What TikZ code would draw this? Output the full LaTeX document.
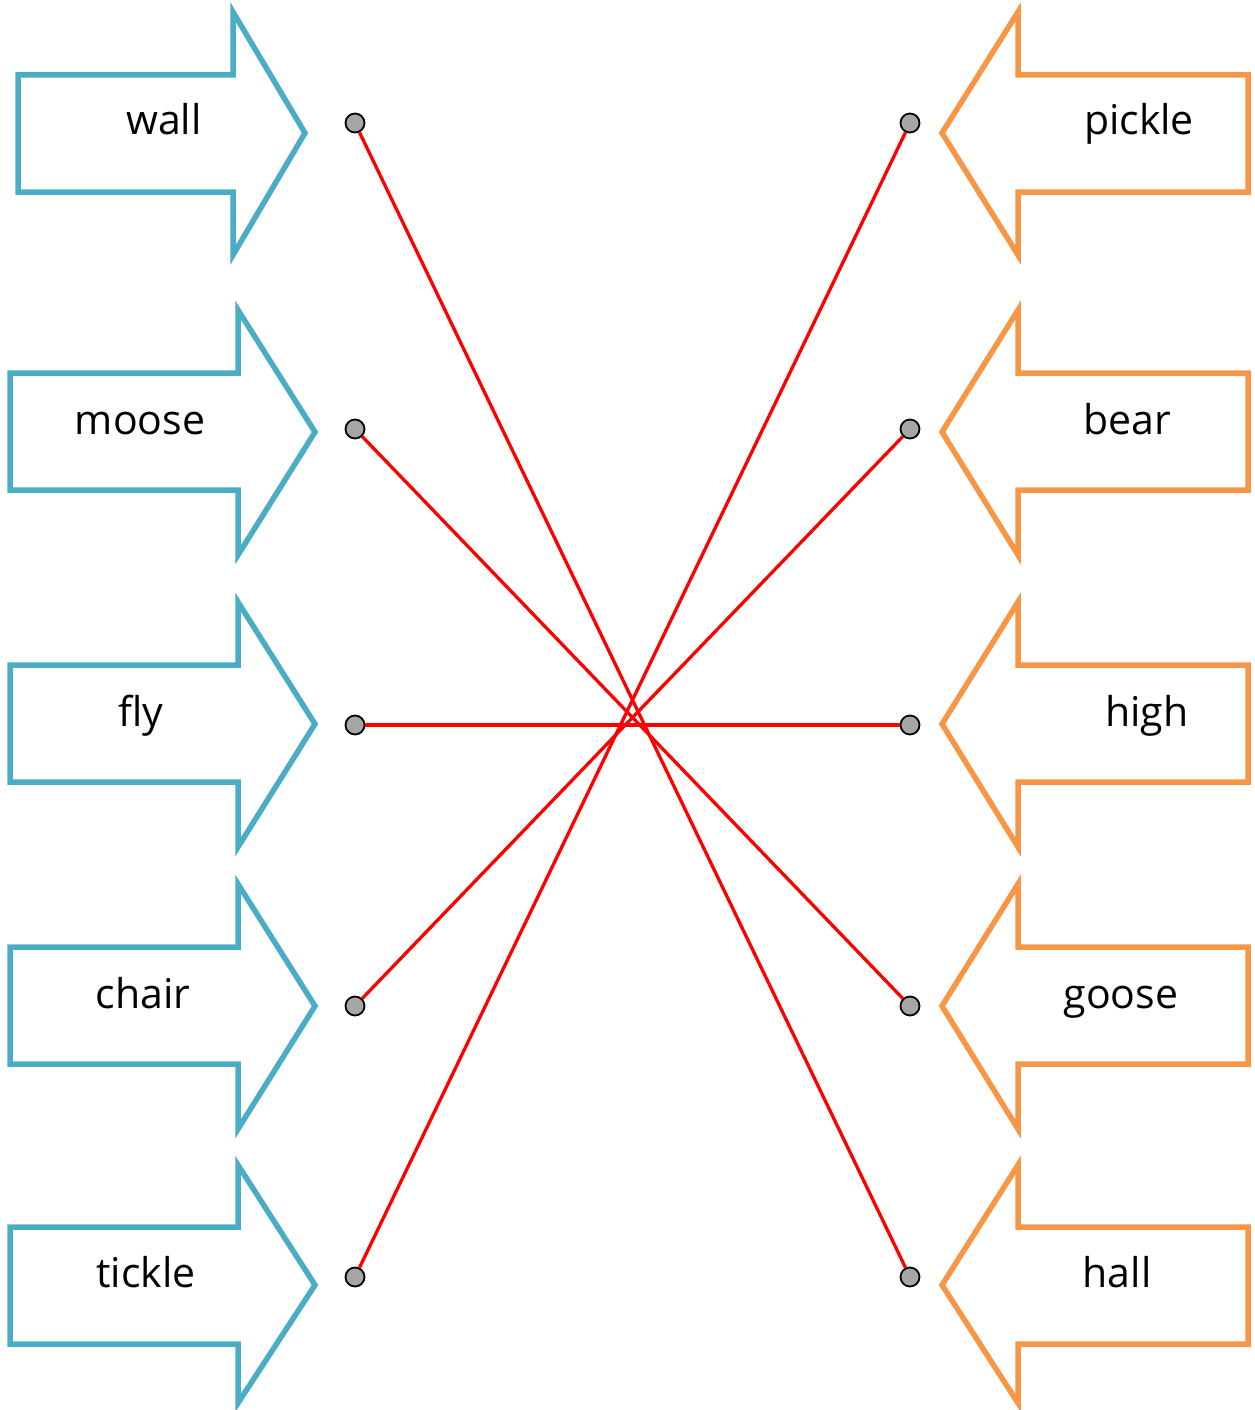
\documentclass[tikz,border=0pt]{standalone}
\usepackage{fontspec}
\setmainfont{Open Sans}
\definecolor{blueA}{HTML}{4BACC6}
\definecolor{orangeA}{HTML}{F79646}
\definecolor{dotgray}{HTML}{A6A6A6}
\tikzset{
  leftarrow/.style={draw=blueA, line width=5.5pt, miter limit=10, fill=white},
  rightarrow/.style={draw=orangeA, line width=5.5pt, miter limit=10, fill=white},
  word/.style={font=\fontsize{41}{48}\selectfont, anchor=base, inner sep=0pt, text=black},
  dotnode/.style={circle, draw=black, fill=dotgray, line width=1.8pt, minimum size=19pt, inner sep=0pt},
  match/.style={draw=red, line width=3.3pt}
}
% #1 left x, #2 body top, #3 body bottom, #4 head x, #5 head top, #6 head bottom, #7 tip x, #8 tip y
\newcommand{\myarrow}[9]{%
  \path[#9] (#1,#2) -- (#4,#2) -- (#4,#5) -- (#7,#8) -- (#4,#6) -- (#4,#3) -- (#1,#3) -- cycle;}
\begin{document}
\begin{tikzpicture}[x=1pt,y=-1pt]
\useasboundingbox (0,0) rectangle (1254,1410);
% left arrows
\myarrow{18}{75}{192}{233}{12}{255}{305}{133}{leftarrow}
\myarrow{10}{373}{490}{238}{310}{555}{315}{432}{leftarrow}
\myarrow{10}{665}{782}{238}{602}{847}{315}{724}{leftarrow}
\myarrow{10}{947}{1064}{238}{884}{1129}{315}{1006}{leftarrow}
\myarrow{10}{1227}{1344}{238}{1165}{1403}{315}{1285}{leftarrow}
% right arrows
\myarrow{1248}{75}{192}{1018}{12}{255}{942}{133}{rightarrow}
\myarrow{1248}{373}{490}{1018}{310}{555}{942}{432}{rightarrow}
\myarrow{1248}{665}{782}{1018}{602}{847}{942}{724}{rightarrow}
\myarrow{1248}{947}{1064}{1018}{884}{1129}{942}{1006}{rightarrow}
\myarrow{1248}{1227}{1344}{1018}{1165}{1403}{942}{1285}{rightarrow}
% words
\node[word] (wwall) at (164,135) {wall};
\node[word] (wmoose) at (140,434) {moose};
\node[word] (wfly) at (141,726) {fly};
\node[word] (wchair) at (143,1008) {chair};
\node[word] (wtickle) at (146,1287) {tickle};
\node[word] (wpickle) at (1139,135) {pickle};
\node[word] (wbear) at (1127,434) {bear};
\node[word] (whigh) at (1147,726) {high};
\node[word] (wgoose) at (1121,1008) {goose};
\node[word] (whall) at (1117,1287) {hall};
% dots
\node[dotnode] (L1) at (355,123) {};
\node[dotnode] (L2) at (355,429) {};
\node[dotnode] (L3) at (355,725) {};
\node[dotnode] (L4) at (355,1006) {};
\node[dotnode] (L5) at (355,1277) {};
\node[dotnode] (R1) at (910,123) {};
\node[dotnode] (R2) at (910,429) {};
\node[dotnode] (R3) at (910,725) {};
\node[dotnode] (R4) at (910,1006) {};
\node[dotnode] (R5) at (910,1277) {};
% matches
\draw[match] (L1) -- (R5);
\draw[match] (L2) -- (R4);
\draw[match] (L3) -- (R3);
\draw[match] (L4) -- (R2);
\draw[match] (L5) -- (R1);
\end{tikzpicture}
\end{document}
